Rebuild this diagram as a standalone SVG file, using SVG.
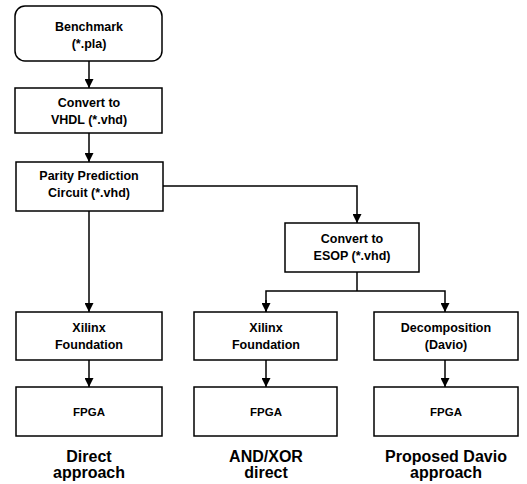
<svg xmlns="http://www.w3.org/2000/svg" width="527" height="484" viewBox="0 0 527 484">
<style>
.box{fill:#fff;stroke:#000;stroke-width:1.5}
.t{font-family:"Liberation Sans",Arial,sans-serif;font-weight:bold;font-size:12.5px;text-anchor:middle;fill:#000}
.s{font-size:11.5px}
.lbl{font-family:"Liberation Sans",Arial,sans-serif;font-weight:bold;font-size:16px;text-anchor:middle;fill:#000}
.c{fill:none;stroke:#000;stroke-width:1.5}
</style>
<defs>
<marker id="ah" viewBox="0 0 10 10" refX="10" refY="5" markerWidth="9" markerHeight="9" markerUnits="userSpaceOnUse" orient="auto">
<path d="M0,0 L10,5 L0,10 z" fill="#000"/>
</marker>
</defs>
<rect width="527" height="484" fill="#fff"/>
<g id="connectors">
<path class="c" d="M89,61 V88" marker-end="url(#ah)"/>
<path class="c" d="M89,133 V162" marker-end="url(#ah)"/>
<path class="c" d="M163,186 H357 V223" marker-end="url(#ah)"/>
<path class="c" d="M89,211 V312" marker-end="url(#ah)"/>
<path class="c" d="M357,272 V291"/>
<path class="c" d="M266,312 V291 H445 V312" marker-end="url(#ah)"/>
<path class="c" d="M266,300 V312" marker-end="url(#ah)"/>
<path class="c" d="M89,360 V387" marker-end="url(#ah)"/>
<path class="c" d="M266,360 V387" marker-end="url(#ah)"/>
<path class="c" d="M445,360 V387" marker-end="url(#ah)"/>
</g>
<g id="benchmark">
<rect class="box" x="15" y="6" width="147" height="55" rx="10"/>
<text class="t" x="89" y="31">Benchmark</text>
<text class="t" x="89" y="48">(*.pla)</text>
</g>
<g id="convert-vhdl">
<rect class="box" x="15" y="88" width="147" height="45"/>
<text class="t" x="89" y="107">Convert to</text>
<text class="t" x="89" y="124">VHDL (*.vhd)</text>
</g>
<g id="parity">
<rect class="box" x="16" y="162" width="147" height="49"/>
<text class="t" x="89" y="180">Parity Prediction</text>
<text class="t" x="89" y="197">Circuit (*.vhd)</text>
</g>
<g id="convert-esop">
<rect class="box" x="285" y="223" width="134" height="49"/>
<text class="t" x="352" y="243">Convert to</text>
<text class="t" x="352" y="260">ESOP (*.vhd)</text>
</g>
<g id="xilinx-left">
<rect class="box" x="16" y="312" width="146" height="48"/>
<text class="t" x="89" y="332">Xilinx</text>
<text class="t" x="89" y="349">Foundation</text>
</g>
<g id="xilinx-mid">
<rect class="box" x="194" y="312" width="143" height="48"/>
<text class="t" x="266" y="332">Xilinx</text>
<text class="t" x="266" y="349">Foundation</text>
</g>
<g id="decomposition">
<rect class="box" x="374" y="312" width="144" height="48"/>
<text class="t" x="446" y="332">Decomposition</text>
<text class="t" x="446" y="349">(Davio)</text>
</g>
<g id="fpga-left">
<rect class="box" x="16" y="387" width="146" height="49"/>
<text class="t s" x="89" y="416">FPGA</text>
</g>
<g id="fpga-mid">
<rect class="box" x="194" y="387" width="143" height="49"/>
<text class="t s" x="266" y="416">FPGA</text>
</g>
<g id="fpga-right">
<rect class="box" x="374" y="387" width="144" height="49"/>
<text class="t s" x="446" y="416">FPGA</text>
</g>
<g id="labels">
<text class="lbl" x="89" y="462">Direct</text>
<text class="lbl" x="89" y="478">approach</text>
<text class="lbl" x="266" y="462">AND/XOR</text>
<text class="lbl" x="266" y="478">direct</text>
<text class="lbl" x="446" y="462">Proposed Davio</text>
<text class="lbl" x="446" y="478">approach</text>
</g>
</svg>
